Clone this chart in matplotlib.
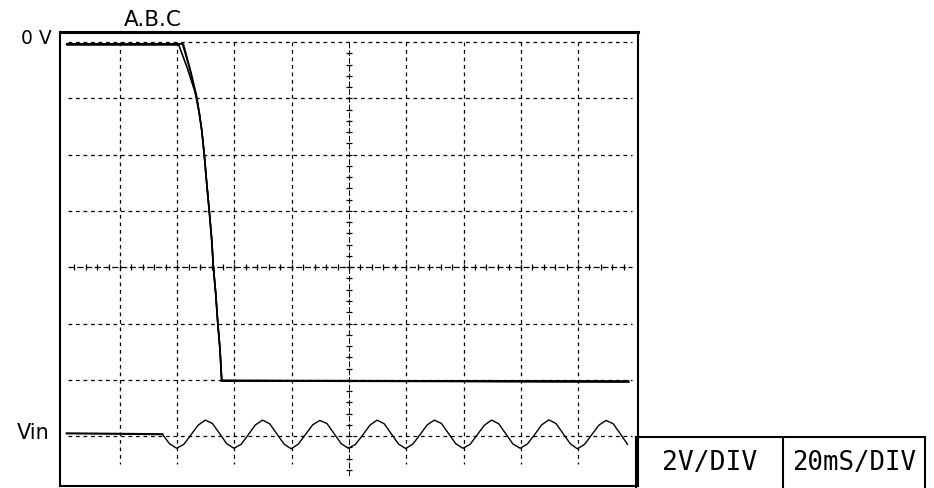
import matplotlib.pyplot as plt
import numpy as np

# output traces A, B, C (x in divisions, y in volts; 2 V/div, 20 ms/div)
trace_a_x = [0.07, 2.02, 2.18, 2.31, 2.385, 2.427, 2.472, 2.514, 2.56, 2.602, 2.63, 2.671, 2.706, 2.747, 2.776, 9.88]
trace_a_y = [-0.07, -0.07, -0.95, -1.77, -2.53, -3.13, -4.01, -5.01, -6.03, -7.03, -7.98, -8.92, -9.94, -10.94, -12.03, -12.06]
trace_b_x = [0.07, 2.106, 2.23, 2.34, 2.385, 2.427, 2.472, 2.514, 2.56, 2.602, 2.63, 2.671, 2.706, 2.747, 2.776, 9.88]
trace_b_y = [-0.07, -0.07, -1.0, -1.94, -2.53, -3.13, -4.01, -5.01, -6.03, -7.03, -7.98, -8.92, -9.94, -10.94, -12.03, -12.06]
trace_c_x = [0.07, 2.09, 2.22, 2.335, 2.385, 2.43, 2.474, 2.516, 2.562, 2.604, 2.632, 2.673, 2.708, 2.749, 2.778, 9.88]
trace_c_y = [-0.07, -0.07, -0.98, -1.92, -2.53, -3.13, -4.01, -5.01, -6.03, -7.03, -7.98, -8.92, -9.94, -10.94, -12.03, -12.06]

# input ripple Vin, flat part then samples every 1/8 div
vin_flat_x = [0.07, 1.74]
vin_flat_y = [0.03, 0.0]
vin_t0 = 1.74
vin_step = 0.125
vin_y = [0.0, -0.34, -0.5, -0.36, -0.02, 0.32, 0.5, 0.38, 0.02,
         -0.34, -0.5, -0.36, -0.02, 0.33, 0.5, 0.37, 0.01,
         -0.35, -0.52, -0.35, -0.01, 0.33, 0.49, 0.38, 0.02,
         -0.34, -0.5, -0.36, -0.03, 0.32, 0.5, 0.37, 0.01,
         -0.35, -0.51, -0.35, -0.02, 0.33, 0.5, 0.38, 0.02,
         -0.34, -0.5, -0.36, -0.02, 0.32, 0.5, 0.37, 0.01,
         -0.35, -0.5, -0.35, -0.02, 0.33, 0.51, 0.38, 0.02,
         -0.34, -0.52, -0.36, -0.02, 0.32, 0.49, 0.37, 0.01,
         -0.36]
vin_offset = -13.93

labels_left = ["0 V", "Vin"]
trace_label = "A.B.C"
scale_labels = ["2V/DIV", "20mS/DIV"]

W, H = 934, 488
fig = plt.figure(figsize=(W / 100, H / 100), dpi=100)

def fx(px):
    return px / W

def fy(py):
    return 1 - py / H

ax = fig.add_axes([fx(60), fy(486), fx(638) - fx(60), fy(32) - fy(486)])
ax.set_xlim(-0.048, 10.048)
ax.set_ylim(-15.77, 0.355)
ax.set_xticks([])
ax.set_yticks([])
for s in ax.spines.values():
    s.set_linewidth(1.5)
ax.spines['top'].set_linewidth(2.2)

# graticule
dash = (0, (3, 3))
for k in range(8):
    yv = -2 * k
    if yv == -8:
        continue
    ax.plot([0.09, 9.95], [yv, yv], color='black', lw=0.9, ls=dash)
for k in range(1, 10):
    if k == 5:
        continue
    ax.plot([k, k], [0.0, -15.0], color='black', lw=0.9, ls=dash)

# centre lines with minor ticks
ax.plot([0.09, 9.95], [-8, -8], color='black', lw=0.9, ls=(0, (5, 2)))
tx = np.arange(0.2, 9.95, 0.2)
ax.plot(tx, np.full_like(tx, -8), ls='none', marker='|', ms=5, mew=0.9, color='black')
ax.plot([5, 5], [0.0, -15.4], color='black', lw=0.7, ls=(0, (6, 2)))
ty = np.arange(-0.4, -15.4, -0.4)
ax.plot(np.full_like(ty, 5), ty, ls='none', marker='_', ms=5, mew=0.9, color='black')

# traces
ax.plot(trace_a_x, trace_a_y, color='black', lw=1.2)
ax.plot(trace_b_x, trace_b_y, color='black', lw=1.2)
ax.plot(trace_c_x, trace_c_y, color='black', lw=1.0)
ax.plot(trace_a_x[:2], trace_a_y[:2], color='black', lw=1.8)
ax.plot(trace_a_x[-2:], trace_a_y[-2:], color='black', lw=1.6)

vin_x = vin_t0 + vin_step * np.arange(len(vin_y))
ax.plot(vin_flat_x, np.array(vin_flat_y) + vin_offset, color='black', lw=1.5)
ax.plot(vin_x, np.array(vin_y) + vin_offset, color='black', lw=1.0)

# labels
fig.text(fx(36), fy(39), labels_left[0], fontsize=13.5, ha='center', va='center')
fig.text(fx(33), fy(433), labels_left[1], fontsize=15, ha='center', va='center')
fig.text(fx(153), fy(20), trace_label, fontsize=15.5, ha='center', va='center')

# scale box
bx = fig.add_axes([fx(636), 0, fx(925) - fx(636), fy(437)])
bx.set_xlim(0, 1)
bx.set_ylim(0, 1)
bx.set_xticks([])
bx.set_yticks([])
bx.patch.set_alpha(0)
bx.spines['bottom'].set_visible(False)
for s in ['top', 'left', 'right']:
    bx.spines[s].set_linewidth(1.5)
div = (783 - 636) / (925 - 636)
bx.axvline(div, color='black', lw=1.5)
bx.text(div / 2, 0.5, scale_labels[0], family='DejaVu Sans Mono', fontsize=19, ha='center', va='center')
bx.text((1 + div) / 2, 0.5, scale_labels[1], family='DejaVu Sans Mono', fontsize=18.5, ha='center', va='center')

plt.savefig('out.png', dpi=100)
